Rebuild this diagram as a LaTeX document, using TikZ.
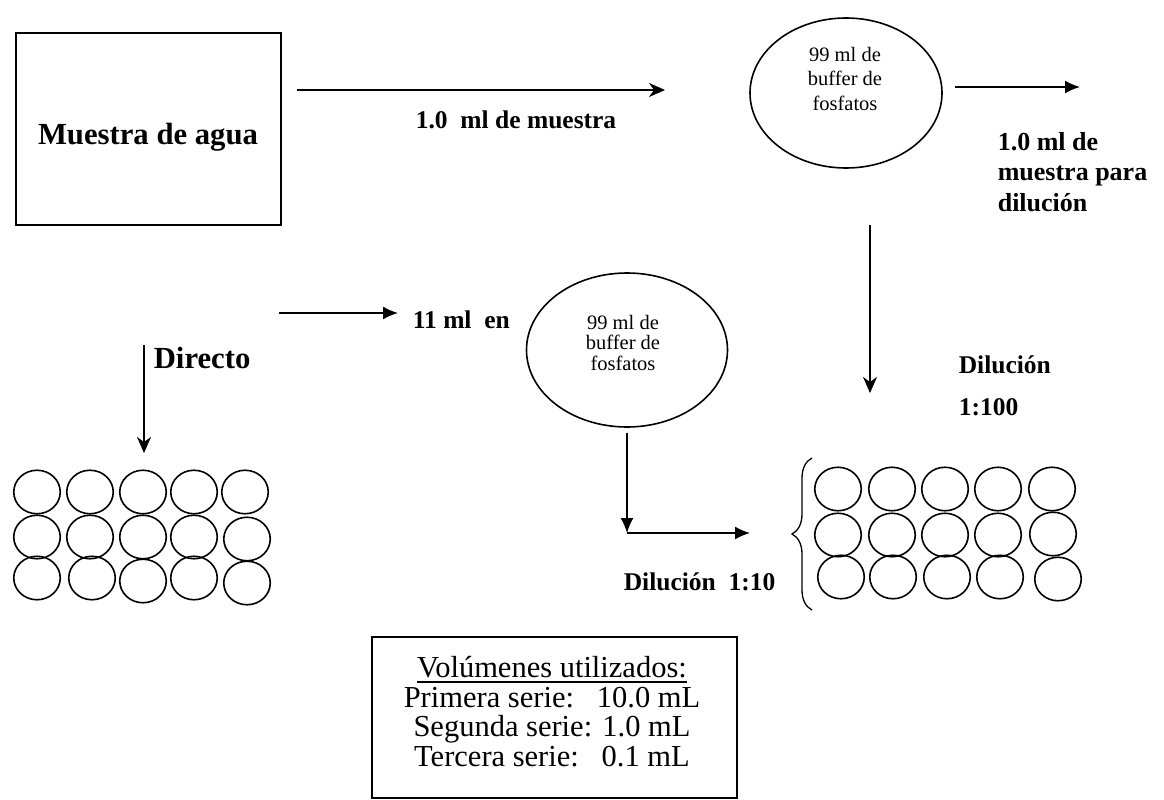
\documentclass[tikz,border=0pt]{standalone}
\usepackage{fontspec}
\setmainfont{Liberation Serif}
\usetikzlibrary{arrows.meta,shapes.geometric,decorations.pathreplacing}
% underline with a rule of chosen depth and thickness
\newcommand{\thickul}[1]{\sbox0{#1}\rlap{\rule[-5pt]{\wd0}{1.5pt}}\usebox0}
\begin{document}
\begin{tikzpicture}[x=1pt,y=-1pt,line width=1.6pt,
  bigbold/.style={font=\fontsize{30.7}{36}\selectfont\bfseries,inner sep=0pt},
  lblbold/.style={font=\fontsize{25.5}{30.5}\selectfont\bfseries,inner sep=0pt},
  buffer/.style={draw,ellipse,inner sep=0pt},
  buftext/.style={align=center,inner sep=0pt},
  well/.style={draw,ellipse,minimum width=46.5pt,minimum height=43.5pt,inner sep=0pt},
  arrowT/.style={-{Latex[length=15pt,width=13pt]}},
  arrowS/.style={-{Stealth[length=16pt,width=14pt,inset=5pt]}}]
\useasboundingbox (0,0) rectangle (1164,800);

% water sample
\node[draw,minimum width=265pt,minimum height=192pt] (sample) at (148.5,129) {};
\node[bigbold,anchor=base] (sampletext) at (148,144) {Muestra de agua};

% first buffer (1:100 dilution)
\node[buffer,minimum width=192pt,minimum height=150pt] (buf1) at (846,93) {};
\node[buftext,font=\fontsize{20.5}{24.5}\selectfont,anchor=north] (buf1text) at (845,46) {99 ml de\\buffer de\\fosfatos};

% second buffer (1:10 dilution)
\node[buffer,minimum width=201pt,minimum height=154pt] (buf2) at (627,350) {};
\node[buftext,font=\fontsize{20.5}{20.5}\selectfont,anchor=north] (buf2text) at (623,314) {99 ml de\\buffer de\\fosfatos};

% connectors
\coordinate (a1s) at (297,90);  \coordinate (a1e) at (665,90);
\coordinate (a2s) at (955,87);  \coordinate (a2e) at (1080,87);
\coordinate (a3s) at (870,225); \coordinate (a3e) at (870,393);
\coordinate (a4s) at (279,313); \coordinate (a4e) at (398,313);
\coordinate (a5s) at (144,345); \coordinate (a5e) at (144,453);
\coordinate (a6s) at (627,433); \coordinate (a6e) at (627,533);
\coordinate (a7e) at (750,533);

\draw[arrowS] (a1s) -- (a1e);
\draw[arrowT] (a2s) -- (a2e);
\draw[arrowS] (a3s) -- (a3e);
\draw[arrowT] (a4s) -- (a4e);
\draw[arrowS] (a5s) -- (a5e);
\draw[arrowT] (a6s) -- (a6e);
\draw[arrowT] (a6e) -- (a7e);

% labels
\node[lblbold,anchor=base west] (l1) at (415,128) {1.0\ \ ml de muestra};
\node[font=\fontsize{26}{30.5}\selectfont\bfseries,inner sep=0pt,align=left,anchor=north west] (l2) at (997,131.4) {1.0 ml de\\muestra para\\dilución};
\node[lblbold,anchor=base west] (l3) at (958,373) {Dilución};
\node[lblbold,anchor=base west] (l4) at (958,415) {1:100};
\node[lblbold,anchor=base west] (l5) at (412,328) {11 ml\ \ en};
\node[bigbold,anchor=base west] (l6) at (153,368) {Directo};
\node[lblbold,anchor=base west] (l7) at (623,590) {Dilución\ \ 1:10};

% wells: direct series
\foreach \n/\x/\y in {l11/37/492,l12/90/492,l13/143/492,l14/194/492,l15/245/492,
                     l21/37/537,l22/90/537,l23/143/537,l24/194/537,l25/247/539,
                     l31/37/578,l32/92/578,l33/143/581,l34/194/578,l35/247/583}
  \node[well] (w\n) at (\x,\y) {};
% wells: diluted series
\foreach \n/\x/\y in {r11/838/489,r12/892/489,r13/945/489,r14/998/489,r15/1052/489,
                     r21/838/535,r22/892/535,r23/945/535,r24/998/535,r25/1053/534,
                     r31/841/577,r32/893/577,r33/947/577,r34/1000/577,r35/1058/579}
  \node[well] (w\n) at (\x,\y) {};

% brace grouping the diluted series
\coordinate (bb) at (812,610); \coordinate (bt) at (812,458);
\draw[line width=1.3pt,decorate,decoration={brace,amplitude=20pt}] (bb) -- (bt);

% volumes box
\node[draw,minimum width=365pt,minimum height=161pt] (volbox) at (554.5,717.5) {};
\node[font=\fontsize{30.5}{29.5}\selectfont,align=center,inner sep=0pt,anchor=north] (voltext) at (552,655.6)
  {\thickul{Volúmenes utilizados:}\\Primera serie:\ \ \ 10.0 mL\\Segunda serie: 1.0 mL\\Tercera serie:\ \ \ 0.1 mL};
\end{tikzpicture}
\end{document}
